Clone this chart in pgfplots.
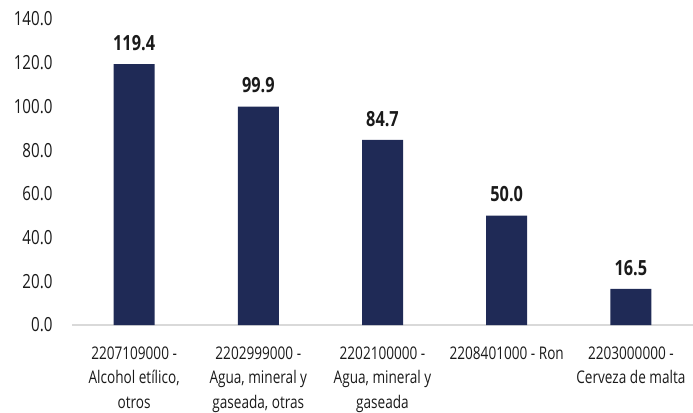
\documentclass[border=0pt]{standalone}
\usepackage{fontspec}
\setmainfont{Open Sans}[FakeStretch=0.78]
\usepackage{pgfplots}
\pgfplotsset{compat=1.18}
\definecolor{barblue}{HTML}{1F2A56}
\definecolor{axgray}{HTML}{D9D9D9}
\definecolor{txt}{HTML}{1A1A1A}
\begin{document}
\begin{tikzpicture}
\begin{axis}[
  name=ax,
  scale only axis,
  width=621bp, height=306bp,
  xmin=-0.5, xmax=4.5,
  ymin=0, ymax=140,
  ytick={0,20,...,140},
  xtick={0,1,2,3,4},
  xticklabels={{2207109000 -\\Alcohol etílico,\\otros},
               {2202999000 -\\Agua, mineral y\\gaseada, otras},
               {2202100000 -\\Agua, mineral y\\gaseada},
               {2208401000 - Ron},
               {2203000000 -\\Cerveza de malta}},
  xticklabel style={align=center, font=\fontsize{17.5}{24.5}\selectfont, text=txt, anchor=north, yshift=-14bp},
  yticklabel style={font=\fontsize{19.5}{20}\selectfont, text=txt, xshift=-16bp},
  /pgf/number format/assume math mode=true,
  yticklabel={\pgfmathprintnumber[fixed,fixed zerofill,precision=1]{\tick}},
  tick style={draw=none},
  axis x line*=bottom,
  axis y line*=left,
  y axis line style={draw=none},
  x axis line style={draw=axgray, line width=1.2bp, -},
  ybar, bar width=41bp,
  nodes near coords={\pgfmathprintnumber[fixed,fixed zerofill,precision=1]{\pgfplotspointmeta}},
  nodes near coords style={font=\bfseries\fontsize{21}{22}\selectfont, text=txt, yshift=10bp},
  clip=false,
]
\addplot[fill=barblue, draw=none] coordinates {(0,119.4) (1,99.9) (2,84.7) (3,50.0) (4,16.5)};
\end{axis}
\pgfresetboundingbox
\path[use as bounding box] ([xshift=-72bp,yshift=-87bp]ax.south west) rectangle ([yshift=19bp]ax.north east);
\end{tikzpicture}
\end{document}
